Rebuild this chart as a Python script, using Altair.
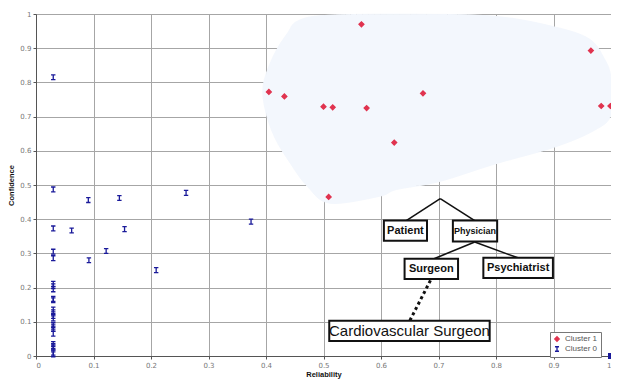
import altair as alt
import pandas as pd

# ---- data ----
c0_x = [0.030, 0.030, 0.261, 0.091, 0.145, 0.030, 0.062, 0.154, 0.030, 0.030,
        0.122, 0.092, 0.209, 0.374,
        0.030, 0.030, 0.030, 0.030, 0.030, 0.030, 0.030, 0.030, 0.030,
        0.030, 0.030, 0.030, 0.030, 0.030, 0.030, 0.030, 0.030, 0.030]
c0_y = [0.815, 0.487, 0.477, 0.456, 0.462, 0.373, 0.367, 0.371, 0.305, 0.286,
        0.307, 0.280, 0.251, 0.393,
        0.211, 0.204, 0.195, 0.167, 0.163, 0.136, 0.128, 0.117, 0.110,
        0.091, 0.086, 0.080, 0.065, 0.035, 0.029, 0.025, 0.010, 0.005]

c1_x = [0.566, 0.405, 0.432, 0.500, 0.516, 0.575, 0.623, 0.673, 0.965, 0.983, 0.999, 0.509]
c1_y = [0.970, 0.772, 0.759, 0.729, 0.727, 0.725, 0.624, 0.768, 0.893, 0.731, 0.731, 0.465]

extra_x = [1.0]
extra_y = [0.0]

# cluster-1 hull region (data coordinates)
hull_x = [0.455, 0.506, 0.661, 0.799, 0.902, 0.962, 0.988, 1.0, 1.0, 0.971, 0.902, 0.799,
          0.701, 0.627, 0.597, 0.511, 0.472, 0.443, 0.415, 0.398, 0.396, 0.415, 0.438]
hull_y = [0.979, 0.996, 0.999, 0.993, 0.962, 0.927, 0.870, 0.812, 0.706, 0.660, 0.611, 0.562,
          0.510, 0.487, 0.467, 0.447, 0.496, 0.562, 0.640, 0.726, 0.798, 0.884, 0.945]

ticks = [0, 0.1, 0.2, 0.3, 0.4, 0.5, 0.6, 0.7, 0.8, 0.9, 1]

# tree annotation
box_labels = ["Patient", "Physician", "Surgeon", "Psychiatrist", "Cardiovascular Surgeon"]
box_x1 = [0.605, 0.725, 0.641, 0.778, 0.510]
box_x2 = [0.680, 0.802, 0.734, 0.899, 0.789]
box_y1 = [0.337, 0.335, 0.225, 0.228, 0.044]
box_y2 = [0.396, 0.396, 0.284, 0.287, 0.103]
box_bold = [True, True, True, True, False]
box_fs = [11, 9, 11, 11, 15]

edge_x1 = [0.703, 0.703, 0.763, 0.763]
edge_y1 = [0.460, 0.460, 0.333, 0.333]
edge_x2 = [0.644, 0.763, 0.687, 0.838]
edge_y2 = [0.396, 0.396, 0.281, 0.287]

dot_x1 = [0.686]
dot_y1 = [0.221]
dot_x2 = [0.650]
dot_y2 = [0.103]

# ---- frames ----
pts = pd.DataFrame({
    "x": c1_x + c0_x,
    "y": c1_y + c0_y,
    "cluster": ["Cluster 1"] * len(c1_x) + ["Cluster 0"] * len(c0_x),
})
hull = pd.DataFrame({"x": hull_x, "y": hull_y, "i": list(range(len(hull_x)))})
boxes = pd.DataFrame({"label": box_labels, "x1": box_x1, "x2": box_x2, "y1": box_y1,
                      "y2": box_y2, "bold": box_bold, "fs": box_fs})
boxes["xc"] = (boxes.x1 + boxes.x2) / 2
boxes["yc"] = (boxes.y1 + boxes.y2) / 2
edges = pd.DataFrame({"x1": edge_x1, "y1": edge_y1, "x2": edge_x2, "y2": edge_y2})
dots = pd.DataFrame({"x1": dot_x1, "y1": dot_y1, "x2": dot_x2, "y2": dot_y2})
extra = pd.DataFrame({"x": extra_x, "y": extra_y})

RED = "#e0334f"
BLUE = "#1a1a9a"
I_SHAPE = "M-0.9,-1H0.9M0,-1V1M-0.9,1H0.9"

xs = alt.Scale(domain=[0, 1], nice=False, zero=False)
ys = alt.Scale(domain=[0, 1], nice=False, zero=False)
XA = alt.Axis(values=ticks, format="~g", title="Reliability")
YA = alt.Axis(values=ticks, format="~g", title="Confidence")


def X(f):
    return alt.X(f + ":Q", scale=xs, axis=XA)


def Y(f):
    return alt.Y(f + ":Q", scale=ys, axis=YA)


hull_layer = alt.Chart(hull).mark_line(
    interpolate="cardinal-closed", fill="#f3f7fd", stroke="#f3f7fd", strokeWidth=1
).encode(x=X("x"), y=Y("y"), order="i:Q")

dom = ["Cluster 1", "Cluster 0"]
pt_layer = alt.Chart(pts).mark_point(filled=True, strokeWidth=1.3, opacity=1, size=24).encode(
    x=X("x"), y=Y("y"),
    fill=alt.Fill("cluster:N", scale=alt.Scale(domain=dom, range=[RED, BLUE]), legend=alt.Legend(title=None)),
    stroke=alt.Stroke("cluster:N", scale=alt.Scale(domain=dom, range=[RED, BLUE]), legend=alt.Legend(title=None)),
    shape=alt.Shape("cluster:N", scale=alt.Scale(domain=dom, range=["diamond", I_SHAPE]), legend=alt.Legend(title=None)),
)

extra_layer = alt.Chart(extra).mark_square(size=36, color=BLUE, opacity=1, clip=False).encode(
    x=X("x"), y=Y("y"))

edge_layer = alt.Chart(edges).mark_rule(color="#111", strokeWidth=1.6).encode(
    x=X("x1"), y=Y("y1"), x2="x2:Q", y2="y2:Q")

dot_layer = alt.Chart(dots).mark_rule(color="#111", strokeWidth=3, strokeDash=[3, 3]).encode(
    x=X("x1"), y=Y("y1"), x2="x2:Q", y2="y2:Q")

box_layer = alt.Chart(boxes).mark_rect(fill="white", stroke="#111", strokeWidth=2).encode(
    x=X("x1"), x2="x2:Q", y=Y("y1"), y2="y2:Q")

txt_bold = alt.Chart(boxes).transform_filter("datum.bold").mark_text(
    font="Liberation Sans", fontWeight="bold", color="#111", baseline="middle", align="center"
).encode(x=X("xc"), y=Y("yc"), text="label:N", size=alt.Size("fs:Q", scale=None))

txt_norm = alt.Chart(boxes).transform_filter("!datum.bold").mark_text(
    font="Liberation Sans", color="#111", baseline="middle", align="center"
).encode(x=X("xc"), y=Y("yc"), text="label:N", size=alt.Size("fs:Q", scale=None))

chart = alt.layer(
    hull_layer, pt_layer, extra_layer, edge_layer, dot_layer, box_layer, txt_bold, txt_norm
).properties(
    width=575, height=342,
    autosize=alt.AutoSizeParams(type="none"),
    padding={"left": 28, "top": 6, "right": 0, "bottom": 23},
    background="white",
).configure_view(stroke=None).configure_axis(
    grid=True, gridColor="#a6a6a6", gridWidth=1,
    domainColor="#555", domainWidth=1,
    tickColor="#555", tickSize=3,
    labelFont="DejaVu Sans", labelFontSize=7, labelColor="#777", labelPadding=2,
    titleFont="Liberation Sans", titleFontSize=7.5, titleFontWeight="bold", titleColor="#111",
).configure_axisX(titlePadding=2).configure_axisY(titlePadding=4).configure_legend(
    orient="none", legendX=514, legendY=318,
    fillColor="white", strokeColor="#777", padding=3,
    labelFont="Liberation Sans", labelFontSize=8, labelColor="#555",
    symbolSize=20, rowPadding=0, symbolStrokeWidth=1.3, cornerRadius=0,
)

chart.save("out.html", embed_options={"renderer": "svg", "actions": False})
